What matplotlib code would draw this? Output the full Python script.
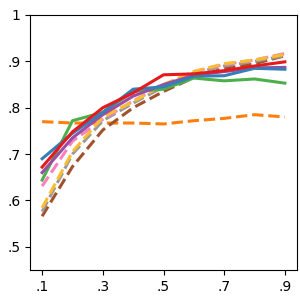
import matplotlib
matplotlib.use("Agg")
import matplotlib.pyplot as plt

x = [0.1, 0.2, 0.3, 0.4, 0.5, 0.6, 0.7, 0.8, 0.9]

blue = [0.690, 0.745, 0.790, 0.840, 0.845, 0.868, 0.869, 0.885, 0.883]
orange = [0.770, 0.767, 0.767, 0.767, 0.765, 0.772, 0.777, 0.785, 0.780]
green = [0.644, 0.772, 0.790, 0.835, 0.840, 0.864, 0.858, 0.862, 0.853]
red = [0.672, 0.748, 0.800, 0.832, 0.871, 0.873, 0.880, 0.890, 0.899]
purple = [0.660, 0.735, 0.785, 0.825, 0.850, 0.870, 0.878, 0.886, 0.887]
brown = [0.566, 0.673, 0.752, 0.800, 0.835, 0.865, 0.885, 0.895, 0.912]
pink = [0.631, 0.728, 0.775, 0.815, 0.848, 0.878, 0.893, 0.903, 0.917]
gray = [0.576, 0.700, 0.772, 0.810, 0.845, 0.875, 0.890, 0.900, 0.912]
gold = [0.584, 0.705, 0.780, 0.813, 0.850, 0.878, 0.895, 0.903, 0.915]

xticks = [0.1, 0.3, 0.5, 0.7, 0.9]
xlabels = [".1", ".3", ".5", ".7", ".9"]
yticks = [0.5, 0.6, 0.7, 0.8, 0.9, 1.0]
ylabels = [".5", ".6", ".7", ".8", ".9", "1"]

fig = plt.figure(figsize=(3, 3), dpi=100)
ax = fig.add_axes([0.1, 0.1, 0.89, 0.85])

lw = 2.2
ax.plot(x, orange, "--", color="#ff7f0e", lw=lw)
ax.plot(x, brown, "--", color="#a0522d", lw=lw)
ax.plot(x, gray, "--", color="#999999", lw=lw)
ax.plot(x, pink, "--", color="#f781bf", lw=lw)
ax.plot(x, gold, "--", color="#fbbc30", lw=lw)
ax.plot(x, green, "-", color="#4daf4a", lw=lw)
ax.plot(x, purple, "-", color="#984ea3", lw=lw)
ax.plot(x, blue, "-", color="#377eb8", lw=lw)
ax.plot(x, red, "-", color="#e41a1c", lw=lw)

ax.set_xlim(0.06, 0.94)
ax.set_ylim(0.45, 1.0)
ax.set_xticks(xticks)
ax.set_xticklabels(xlabels)
ax.set_yticks(yticks)
ax.set_yticklabels(ylabels)
ax.tick_params(labelsize=10)

fig.savefig("out.png", dpi=100)
